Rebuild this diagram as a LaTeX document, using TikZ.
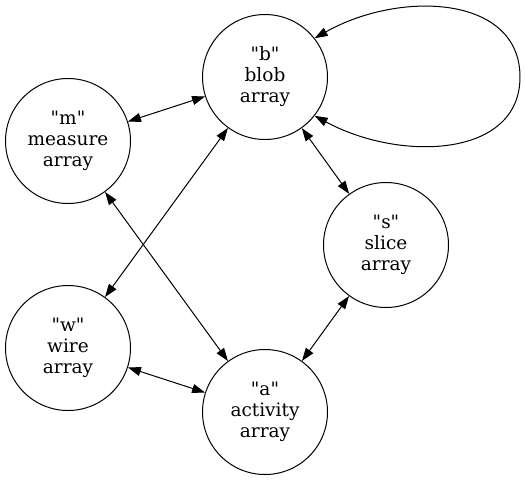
\documentclass[tikz,border=0pt]{standalone}
\usepackage{fontspec}
\setmainfont{DejaVu Serif}[Ligatures=TeXOff]
\usetikzlibrary{arrows.meta}
\tikzset{
  arraynode/.style={draw, circle, line width=1pt, minimum size=125pt, inner sep=0pt, align=center,
    font=\fontsize{18.5pt}{21pt}\selectfont},
  link/.style={line width=1pt, {Triangle[length=13pt,width=9pt]}-{Triangle[length=13pt,width=9pt]}}
}
\begin{document}
\begin{tikzpicture}[x=1pt,y=1pt,yscale=-1,xscale=1]
\useasboundingbox (0,0) rectangle (525,480);
\node [arraynode] (b) at (265,77) {"b"\\blob\\array};
\node [arraynode] (m) at (68,141) {"m"\\measure\\array};
\node [arraynode] (s) at (386,245) {"s"\\slice\\array};
\node [arraynode] (w) at (68,348) {"w"\\wire\\array};
\node [arraynode] (a) at (265,412) {"a"\\activity\\array};
\draw [link] (m) -- (b);
\draw [link] (b) -- (s);
\draw [link] (b) -- (w);
\draw [link] (m) -- (a);
\draw [link] (s) -- (a);
\draw [link] (w) -- (a);
\draw [link] (b.38) .. controls (400,-10) and (520,-5) .. (520,77) .. controls (520,158) and (400,162) .. (b.-38);
\end{tikzpicture}
\end{document}
